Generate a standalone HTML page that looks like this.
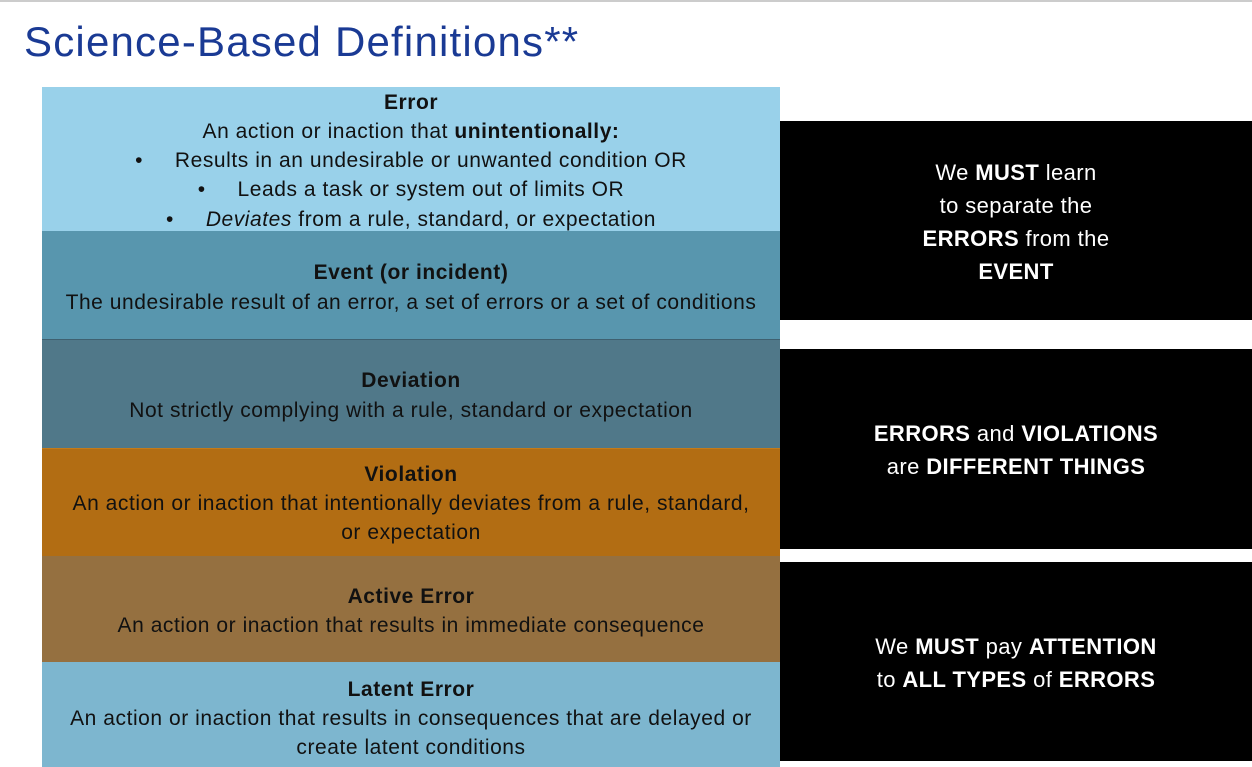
<!DOCTYPE html>
<html><head><meta charset="utf-8"><style>
body{margin:0;width:1252px;height:767px;position:relative;overflow:hidden;background:#fff;font-family:"Liberation Sans",sans-serif}
.t{position:absolute;left:24px;top:18px;font-size:42px;color:#1a3a94;letter-spacing:1.2px;white-space:nowrap}
.b{position:absolute;left:42px;width:738px}
.l{position:absolute;left:42px;width:738px;text-align:center;font-size:21px;letter-spacing:0.55px;line-height:29px;color:#111;white-space:nowrap}
.k{position:absolute;left:780px;width:472px;background:#000}
.r{position:absolute;left:780px;width:472px;text-align:center;font-size:22px;letter-spacing:0.4px;line-height:33px;color:#fff;white-space:nowrap}
</style></head><body>
<div style="position:absolute;left:0;top:0;width:1252px;height:2px;background:#ccc"></div>
<div class="t">Science-Based Definitions**</div>
<div class="b" style="top:87px;height:144px;background:#99d1ea"></div>
<div class="b" style="top:231px;height:108px;background:#5896ae"></div>
<div class="b" style="top:339px;height:109px;background:#507889;border-top:1px solid #3f6070"></div>
<div class="b" style="top:448px;height:108px;background:#b26d13;border-top:1px solid #c47b1a"></div>
<div class="b" style="top:556px;height:106px;background:#957040"></div>
<div class="b" style="top:662px;height:105px;background:#7db6cf"></div>
<div class="l" style="top:88px"><b>Error</b></div>
<div class="l" style="top:117px">An action or inaction that <b>unintentionally:</b></div>
<div class="l" style="top:146px">•&nbsp;&nbsp;&nbsp;&nbsp;&nbsp;Results in an undesirable or unwanted condition OR</div>
<div class="l" style="top:175px">•&nbsp;&nbsp;&nbsp;&nbsp;&nbsp;Leads a task or system out of limits OR</div>
<div class="l" style="top:205px">•&nbsp;&nbsp;&nbsp;&nbsp;&nbsp;<i>Deviates</i> from a rule, standard, or expectation</div>
<div class="l" style="top:258px"><b>Event (or incident)</b></div>
<div class="l" style="top:288px">The undesirable result of an error, a set of errors or a set of conditions</div>
<div class="l" style="top:366px"><b>Deviation</b></div>
<div class="l" style="top:396px">Not strictly complying with a rule, standard or expectation</div>
<div class="l" style="top:460px"><b>Violation</b></div>
<div class="l" style="top:489px">An action or inaction that intentionally deviates from a rule, standard,</div>
<div class="l" style="top:518px">or expectation</div>
<div class="l" style="top:582px"><b>Active Error</b></div>
<div class="l" style="top:611px">An action or inaction that results in immediate consequence</div>
<div class="l" style="top:675px"><b>Latent Error</b></div>
<div class="l" style="top:704px">An action or inaction that results in consequences that are delayed or</div>
<div class="l" style="top:733px">create latent conditions</div>
<div class="k" style="top:121px;height:199px"></div>
<div class="k" style="top:349px;height:200px"></div>
<div class="k" style="top:562px;height:199px"></div>
<div class="r" style="top:156px">We <b>MUST</b> learn</div>
<div class="r" style="top:189px">to separate the</div>
<div class="r" style="top:222px"><b>ERRORS</b> from the</div>
<div class="r" style="top:255px"><b>EVENT</b></div>
<div class="r" style="top:417px"><b>ERRORS</b> and <b>VIOLATIONS</b></div>
<div class="r" style="top:450px">are <b>DIFFERENT THINGS</b></div>
<div class="r" style="top:630px">We <b>MUST</b> pay <b>ATTENTION</b></div>
<div class="r" style="top:663px">to <b>ALL TYPES</b> of <b>ERRORS</b></div>
</body></html>
